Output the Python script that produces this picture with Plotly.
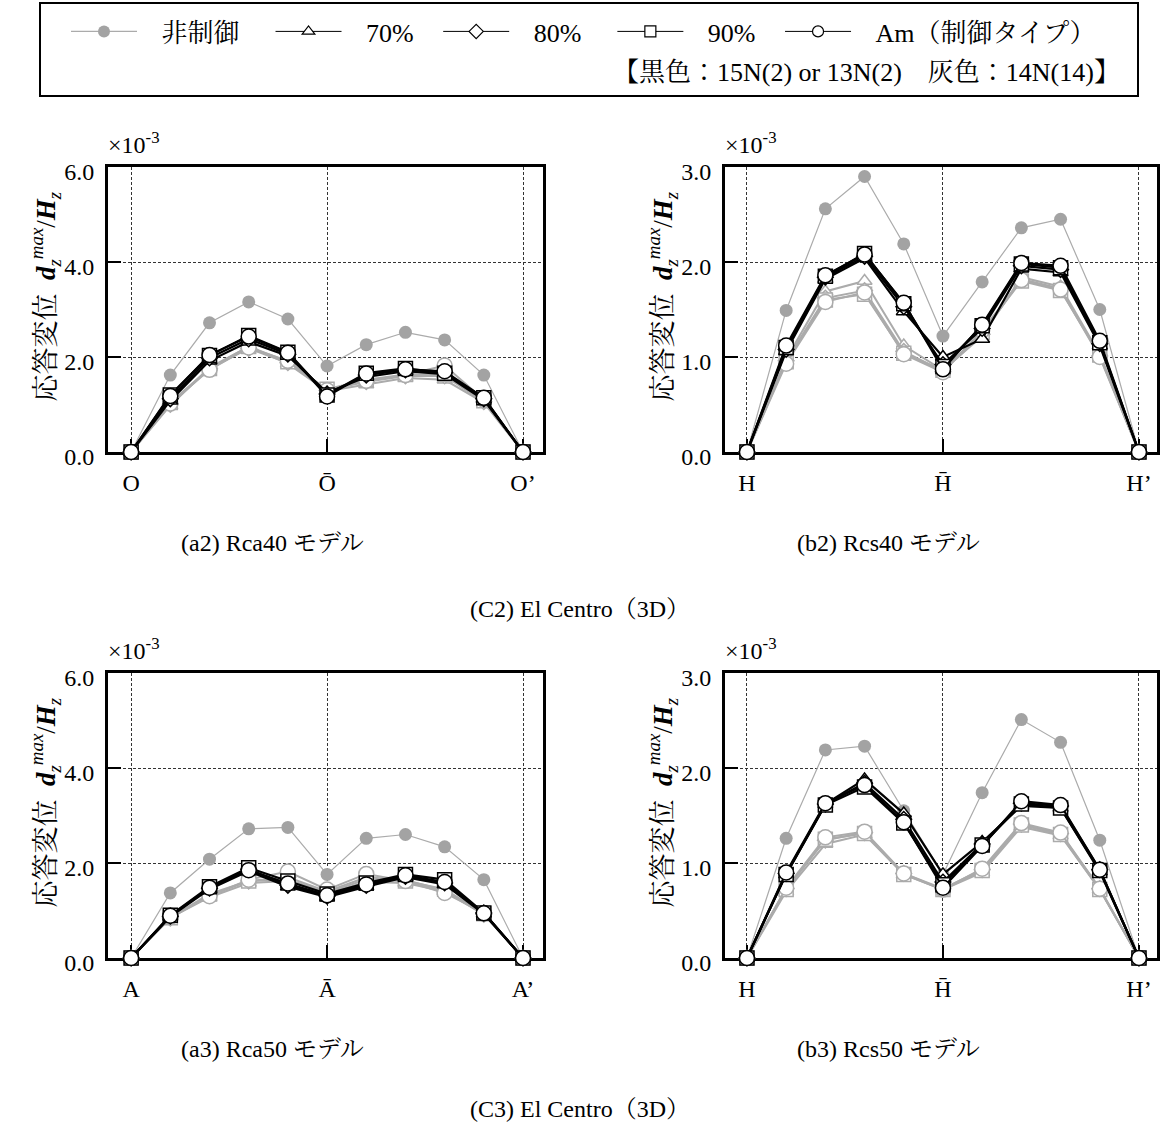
import plotly.graph_objects as go

FIG_W, FIG_H = 1160, 1124

# node index along each frame line (0 .. 10)
nodes = list(range(11))

# ---- (a2) Rca40 model, El Centro (3D)  [x10^-3] ----
rca40_nonctrl = [0, 1.62, 2.72, 3.16, 2.80, 1.81, 2.26, 2.52, 2.36, 1.62, 0]
rca40_b70 = [0, 1.08, 1.92, 2.32, 2.02, 1.25, 1.58, 1.70, 1.64, 1.10, 0]
rca40_b80 = [0, 1.12, 1.98, 2.38, 2.06, 1.22, 1.62, 1.73, 1.68, 1.12, 0]
rca40_b90 = [0, 1.20, 2.03, 2.45, 2.10, 1.20, 1.66, 1.76, 1.66, 1.14, 0]
rca40_bAm = [0, 1.18, 2.04, 2.43, 2.09, 1.17, 1.65, 1.74, 1.70, 1.14, 0]
rca40_g70 = [0, 0.98, 1.78, 2.22, 1.86, 1.28, 1.42, 1.56, 1.52, 1.04, 0]
rca40_g80 = [0, 1.00, 1.75, 2.18, 1.88, 1.30, 1.48, 1.60, 1.60, 1.06, 0]
rca40_g90 = [0, 1.04, 1.76, 2.22, 1.90, 1.32, 1.52, 1.63, 1.63, 1.08, 0]
rca40_gAm = [0, 1.02, 1.73, 2.20, 1.92, 1.30, 1.50, 1.62, 1.82, 1.10, 0]

# ---- (b2) Rcs40 model ----
rcs40_nonctrl = [0, 1.49, 2.56, 2.90, 2.19, 1.22, 1.79, 2.36, 2.45, 1.50, 0]
rcs40_b70 = [0, 1.06, 1.82, 2.04, 1.48, 1.00, 1.19, 1.93, 1.89, 1.12, 0]
rcs40_b80 = [0, 1.08, 1.84, 2.06, 1.53, 0.92, 1.30, 1.96, 1.92, 1.14, 0]
rcs40_b90 = [0, 1.10, 1.85, 2.09, 1.56, 0.90, 1.33, 1.98, 1.94, 1.15, 0]
rcs40_bAm = [0, 1.12, 1.86, 2.08, 1.57, 0.87, 1.34, 1.99, 1.96, 1.17, 0]
rcs40_g70 = [0, 0.98, 1.69, 1.80, 1.12, 0.86, 1.22, 1.84, 1.74, 1.03, 0]
rcs40_g80 = [0, 0.96, 1.62, 1.70, 1.06, 0.85, 1.24, 1.82, 1.72, 1.01, 0]
rcs40_g90 = [0, 0.95, 1.60, 1.66, 1.04, 0.86, 1.26, 1.80, 1.70, 1.02, 0]
rcs40_gAm = [0, 0.93, 1.58, 1.68, 1.03, 0.84, 1.28, 1.81, 1.71, 1.00, 0]

# ---- (a3) Rca50 model ----
rca50_nonctrl = [0, 1.37, 2.08, 2.72, 2.75, 1.76, 2.52, 2.60, 2.34, 1.65, 0]
rca50_b70 = [0, 0.87, 1.45, 1.83, 1.50, 1.28, 1.50, 1.70, 1.55, 0.93, 0]
rca50_b80 = [0, 0.88, 1.47, 1.87, 1.53, 1.30, 1.53, 1.72, 1.58, 0.95, 0]
rca50_b90 = [0, 0.90, 1.50, 1.90, 1.62, 1.35, 1.58, 1.76, 1.65, 0.95, 0]
rca50_bAm = [0, 0.89, 1.48, 1.85, 1.57, 1.32, 1.55, 1.74, 1.60, 0.94, 0]
rca50_g70 = [0, 0.85, 1.28, 1.58, 1.62, 1.36, 1.60, 1.58, 1.40, 0.92, 0]
rca50_g80 = [0, 0.84, 1.32, 1.62, 1.70, 1.40, 1.70, 1.64, 1.42, 0.92, 0]
rca50_g90 = [0, 0.85, 1.35, 1.62, 1.65, 1.38, 1.65, 1.62, 1.45, 0.93, 0]
rca50_gAm = [0, 0.86, 1.30, 1.65, 1.82, 1.44, 1.77, 1.62, 1.37, 0.95, 0]

# ---- (b3) Rcs50 model ----
rcs50_nonctrl = [0, 1.26, 2.19, 2.23, 1.55, 0.88, 1.74, 2.51, 2.27, 1.24, 0]
rcs50_b70 = [0, 0.88, 1.62, 1.88, 1.52, 0.88, 1.22, 1.60, 1.58, 0.91, 0]
rcs50_b80 = [0, 0.89, 1.62, 1.84, 1.46, 0.80, 1.20, 1.63, 1.60, 0.93, 0]
rcs50_b90 = [0, 0.88, 1.61, 1.80, 1.42, 0.77, 1.19, 1.62, 1.58, 0.92, 0]
rcs50_bAm = [0, 0.90, 1.63, 1.82, 1.43, 0.74, 1.18, 1.65, 1.61, 0.93, 0]
rcs50_g70 = [0, 0.70, 1.20, 1.30, 0.88, 0.72, 0.90, 1.38, 1.29, 0.72, 0]
rcs50_g80 = [0, 0.73, 1.24, 1.32, 0.89, 0.73, 0.93, 1.41, 1.31, 0.73, 0]
rcs50_g90 = [0, 0.72, 1.25, 1.31, 0.88, 0.72, 0.92, 1.40, 1.30, 0.72, 0]
rcs50_gAm = [0, 0.74, 1.27, 1.33, 0.89, 0.72, 0.94, 1.42, 1.32, 0.73, 0]

# tick labels
labels_O = ["O", "Ō", "O’"]
labels_H = ["H", "H\u0304", "H’"]
labels_A = ["A", "Ā", "A’"]
yticks_6 = [0, 2, 4, 6]
yticks_3 = [0, 1, 2, 3]

legend_names = {"nonctrl": "非制御", "70": "70%", "80": "80%", "90": "90%", "Am": "Am（制御タイプ）"}
# non-breaking padding around legend labels (lead, trail) to space the entries out
legend_pad = {"nonctrl": (3, 4), "70": (3, 3), "80": (3, 4), "90": (3, 3), "Am": (3, 0)}

SERIF = "Liberation Serif, Times New Roman, Noto Serif CJK JP, Noto Sans CJK JP, serif"
GRAY_LINE = "#ababab"
GRAY_DOT = "#a3a3a3"

MARKER = {"70": "triangle-up", "80": "diamond", "90": "square", "Am": "circle"}
MSIZE = {"70": 13, "80": 12, "90": 14, "Am": 15}
NB = "\u00a0"


def px_x(p):
    return p / FIG_W


def px_y(p):
    return 1 - p / FIG_H


def padded(key):
    lead, trail = legend_pad[key]
    return NB * lead + legend_names[key] + NB * trail


# panel geometry (pixel boxes of each plotting area)
panels = [
    dict(ax="", xpix=(108, 543), ypix=(167, 452), xr=[-0.59, 10.51], ymax=6, yt=yticks_6,
         xl=labels_O, caption="(a2) Rca40 モデル", cap_x=272,
         data=dict(nonctrl=rca40_nonctrl, b70=rca40_b70, b80=rca40_b80, b90=rca40_b90, bAm=rca40_bAm,
                   g70=rca40_g70, g80=rca40_g80, g90=rca40_g90, gAm=rca40_gAm)),
    dict(ax="2", xpix=(725, 1157), ypix=(167, 452), xr=[-0.56, 10.46], ymax=3, yt=yticks_3,
         xl=labels_H, caption="(b2) Rcs40 モデル", cap_x=888,
         data=dict(nonctrl=rcs40_nonctrl, b70=rcs40_b70, b80=rcs40_b80, b90=rcs40_b90, bAm=rcs40_bAm,
                   g70=rcs40_g70, g80=rcs40_g80, g90=rcs40_g90, gAm=rcs40_gAm)),
    dict(ax="3", xpix=(108, 543), ypix=(673, 958), xr=[-0.59, 10.51], ymax=6, yt=yticks_6,
         xl=labels_A, caption="(a3) Rca50 モデル", cap_x=272,
         data=dict(nonctrl=rca50_nonctrl, b70=rca50_b70, b80=rca50_b80, b90=rca50_b90, bAm=rca50_bAm,
                   g70=rca50_g70, g80=rca50_g80, g90=rca50_g90, gAm=rca50_gAm)),
    dict(ax="4", xpix=(725, 1157), ypix=(673, 958), xr=[-0.56, 10.46], ymax=3, yt=yticks_3,
         xl=labels_H, caption="(b3) Rcs50 モデル", cap_x=888,
         data=dict(nonctrl=rcs50_nonctrl, b70=rcs50_b70, b80=rcs50_b80, b90=rcs50_b90, bAm=rcs50_bAm,
                   g70=rcs50_g70, g80=rcs50_g80, g90=rcs50_g90, gAm=rcs50_gAm)),
]

fig = go.Figure()

for p in panels:
    xa, ya = "x" + p["ax"], "y" + p["ax"]
    d = p["data"]
    # grey set (14N(14)) underneath
    for k in ["70", "80", "90", "Am"]:
        fig.add_trace(go.Scatter(
            x=nodes, y=d["g" + k], xaxis=xa, yaxis=ya, mode="lines+markers", showlegend=False,
            cliponaxis=False,
            line=dict(color=GRAY_LINE, width=2),
            marker=dict(symbol=MARKER[k], size=MSIZE[k], color="white",
                        line=dict(color=GRAY_LINE, width=1.5))))
    # uncontrolled
    fig.add_trace(go.Scatter(
        x=nodes, y=d["nonctrl"], xaxis=xa, yaxis=ya, mode="lines+markers", showlegend=False,
        cliponaxis=False,
        line=dict(color=GRAY_LINE, width=1.2),
        marker=dict(symbol="circle", size=13, color=GRAY_DOT, line=dict(width=0))))
    # black set (15N(2) / 13N(2)) on top
    for k in ["70", "80", "90", "Am"]:
        fig.add_trace(go.Scatter(
            x=nodes, y=d["b" + k], xaxis=xa, yaxis=ya, mode="lines+markers", showlegend=False,
            cliponaxis=False,
            line=dict(color="black", width=2.2),
            marker=dict(symbol=MARKER[k], size=MSIZE[k], color="white",
                        line=dict(color="black", width=1.5))))

# legend entries
fig.add_trace(go.Scatter(x=[None], y=[None], mode="lines+markers", name=padded("nonctrl"),
                         line=dict(color=GRAY_LINE, width=1.2),
                         marker=dict(symbol="circle", size=12, color=GRAY_DOT)))
for k in ["70", "80", "90", "Am"]:
    fig.add_trace(go.Scatter(x=[None], y=[None], mode="lines+markers", name=padded(k),
                             line=dict(color="black", width=1),
                             marker=dict(symbol=MARKER[k], size=11, color="white",
                                         line=dict(color="black", width=1.2))))

layout = dict(
    width=FIG_W, height=FIG_H,
    margin=dict(l=0, r=0, t=0, b=0, autoexpand=False),
    paper_bgcolor="white", plot_bgcolor="white",
    font=dict(family=SERIF, size=24, color="black"),
    showlegend=True,
    legend=dict(orientation="h", xref="container", yref="container",
                x=px_x(66), y=px_y(8), xanchor="left", yanchor="top",
                font=dict(family=SERIF, size=26, color="black"), bgcolor="rgba(0,0,0,0)",
                itemwidth=66, traceorder="normal"),
)

annotations = []
for p in panels:
    n = p["ax"]
    x0, x1 = p["xpix"]
    y0, y1 = p["ypix"]
    axis_common = dict(showline=True, linewidth=3, linecolor="black", mirror=True,
                       showgrid=True, gridcolor="#333333", gridwidth=1, griddash="3px,2px",
                       zeroline=False, ticks="inside", ticklen=13, tickwidth=2, tickcolor="black",
                       tickfont=dict(family=SERIF, size=24), layer="below traces", fixedrange=True)
    layout["xaxis" + n] = dict(axis_common, domain=[px_x(x0), px_x(x1)], range=p["xr"],
                               anchor="y" + n, tickvals=[0, 5, 10], ticktext=p["xl"],
                               ticklabelstandoff=7)
    layout["yaxis" + n] = dict(axis_common, domain=[px_y(y1), px_y(y0)], range=[0, p["ymax"]],
                               anchor="x" + n, tickvals=p["yt"],
                               ticktext=[f"{v:.1f}" for v in p["yt"]], ticklabelstandoff=6,
                               ticklabelshift=5)
    # exponent label
    annotations.append(dict(text="×10<sup>-3</sup>", x=px_x(x0 - 2), y=px_y(y0 - 24),
                            xref="paper", yref="paper", xanchor="left", yanchor="middle",
                            showarrow=False, font=dict(family=SERIF, size=24)))
    # y title
    annotations.append(dict(
        text="応答変位  <b><i>d</i></b><sub><i>z</i></sub><sup><i>max</i></sup>/<b><i>H</i></b><sub><i>z</i></sub>",
        x=px_x(x0 - 63), y=px_y((y0 + y1) / 2 - 13), xref="paper", yref="paper",
        xanchor="center", yanchor="middle", textangle=-90, showarrow=False,
        font=dict(family=SERIF, size=27)))
    # panel caption
    annotations.append(dict(text=p["caption"], x=px_x(p["cap_x"]), y=px_y(y1 + 91),
                            xref="paper", yref="paper", xanchor="center", yanchor="middle",
                            showarrow=False, font=dict(family=SERIF, size=24)))

# group captions
annotations.append(dict(text="(C2) El Centro（3D）", x=px_x(580), y=px_y(609), xref="paper", yref="paper",
                        xanchor="center", yanchor="middle", showarrow=False,
                        font=dict(family=SERIF, size=24)))
annotations.append(dict(text="(C3) El Centro（3D）", x=px_x(580), y=px_y(1109), xref="paper", yref="paper",
                        xanchor="center", yanchor="middle", showarrow=False,
                        font=dict(family=SERIF, size=24)))
# legend second row
annotations.append(dict(text="【黒色：15N(2) or 13N(2)　灰色：14N(14)】", x=px_x(1122), y=px_y(72),
                        xref="paper", yref="paper", xanchor="right", yanchor="middle",
                        showarrow=False, font=dict(family=SERIF, size=26)))

layout["annotations"] = annotations
layout["shapes"] = [dict(type="rect", xref="paper", yref="paper",
                         x0=px_x(40), x1=px_x(1138), y0=px_y(96), y1=px_y(3),
                         line=dict(color="black", width=2), fillcolor="rgba(0,0,0,0)")]

fig.update_layout(**layout)
fig.write_html("out.html")
